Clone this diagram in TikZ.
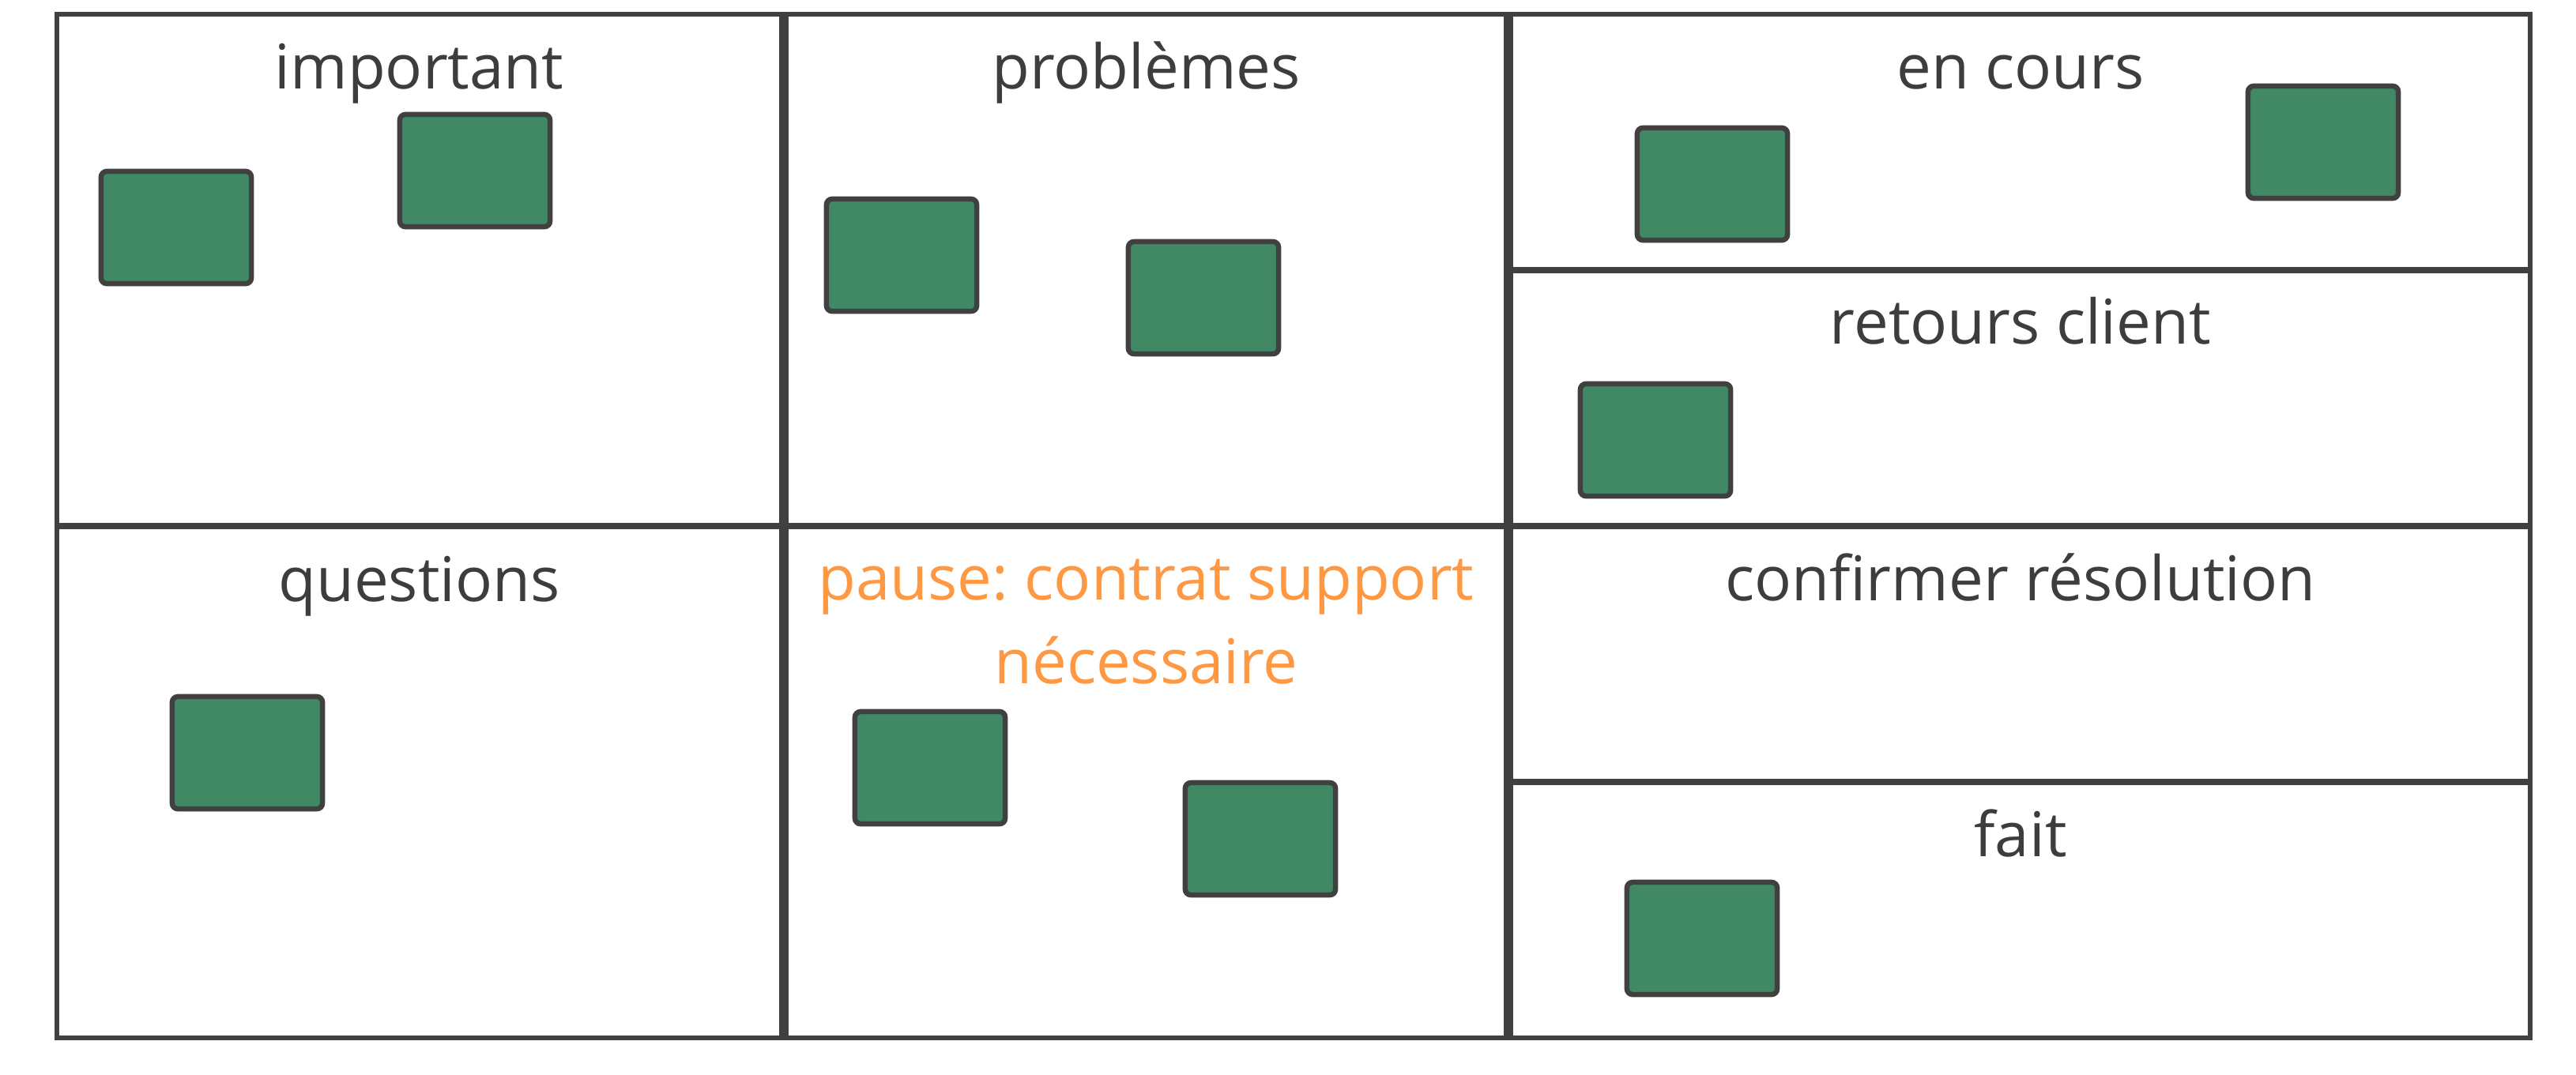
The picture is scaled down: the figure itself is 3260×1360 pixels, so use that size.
\documentclass[tikz,border=0pt]{standalone}
\usepackage{fontspec}
\setmainfont{Open Sans}
\usepackage{tikz}
\frenchspacing
\definecolor{linegray}{RGB}{64,64,64}
\definecolor{textgray}{RGB}{61,61,61}
\definecolor{cardgreen}{RGB}{65,137,100}
\definecolor{pauseorange}{RGB}{255,152,66}
\tikzset{lane/.style = {draw = linegray, line width = 0.06cm, inner sep = 0}}
\tikzset{card/.style = {draw = linegray, fill = cardgreen, line width = 0.065cm, rounded corners = 0.07cm,
                        minimum width = 1.9cm, minimum height = 1.42cm, inner sep = 0}}
\tikzset{title/.style = {font = \fontsize{22.2}{30}\selectfont, text = textgray, anchor = base, align = center, inner sep = 0}}

\begin{document}
\begin{tikzpicture}[x = 0.01cm, y = -0.01cm]
      \useasboundingbox (0, 0) rectangle (3260, 1360);
      % lanes
      \node [lane, minimum width = 9.17cm, minimum height = 6.47cm] (important) at (530.5, 341.5) {};
      \node [lane, minimum width = 9.17cm, minimum height = 6.47cm] (questions) at (530.5, 990.5) {};
      \node [lane, minimum width = 9.11cm, minimum height = 6.47cm] (problemes) at (1450.5, 341.5) {};
      \node [lane, minimum width = 9.11cm, minimum height = 6.47cm] (pause) at (1450.5, 990.5) {};
      \node [lane, minimum width = 12.90cm, minimum height = 3.23cm] (encours) at (2557, 179.5) {};
      \node [lane, minimum width = 12.90cm, minimum height = 3.22cm] (retours) at (2557, 504) {};
      \node [lane, minimum width = 12.90cm, minimum height = 3.22cm] (confirmer) at (2557, 828) {};
      \node [lane, minimum width = 12.90cm, minimum height = 3.23cm] (fait) at (2557, 1152.5) {};
      % titles
      \node [title] (important title) at (530.5, 112) {important};
      \node [title] (questions title) at (530.5, 761) {questions};
      \node [title] (problemes title) at (1450.5, 112) {problèmes};
      \node [title, text = pauseorange] (pause title) at (1450.5, 865) {pause: contrat support\\nécessaire};
      \node [title] (encours title) at (2557, 112) {en cours};
      \node [title] (retours title) at (2557, 435) {retours client};
      \node [title] (confirmer title) at (2557, 760) {confirmer résolution};
      \node [title] (fait title) at (2557, 1084) {fait};
      % cards
      \node [card] (important a) at (223, 288) {};
      \node [card] (important b) at (601, 216) {};
      \node [card] (questions a) at (313, 953) {};
      \node [card] (problemes a) at (1141, 323) {};
      \node [card] (problemes b) at (1523, 377) {};
      \node [card] (pause a) at (1177, 972) {};
      \node [card] (pause b) at (1595, 1062) {};
      \node [card] (encours a) at (2167, 233) {};
      \node [card] (encours b) at (2940, 180) {};
      \node [card] (retours a) at (2095, 557) {};
      \node [card] (fait a) at (2154, 1188) {};
    \end{tikzpicture}
\end{document}
